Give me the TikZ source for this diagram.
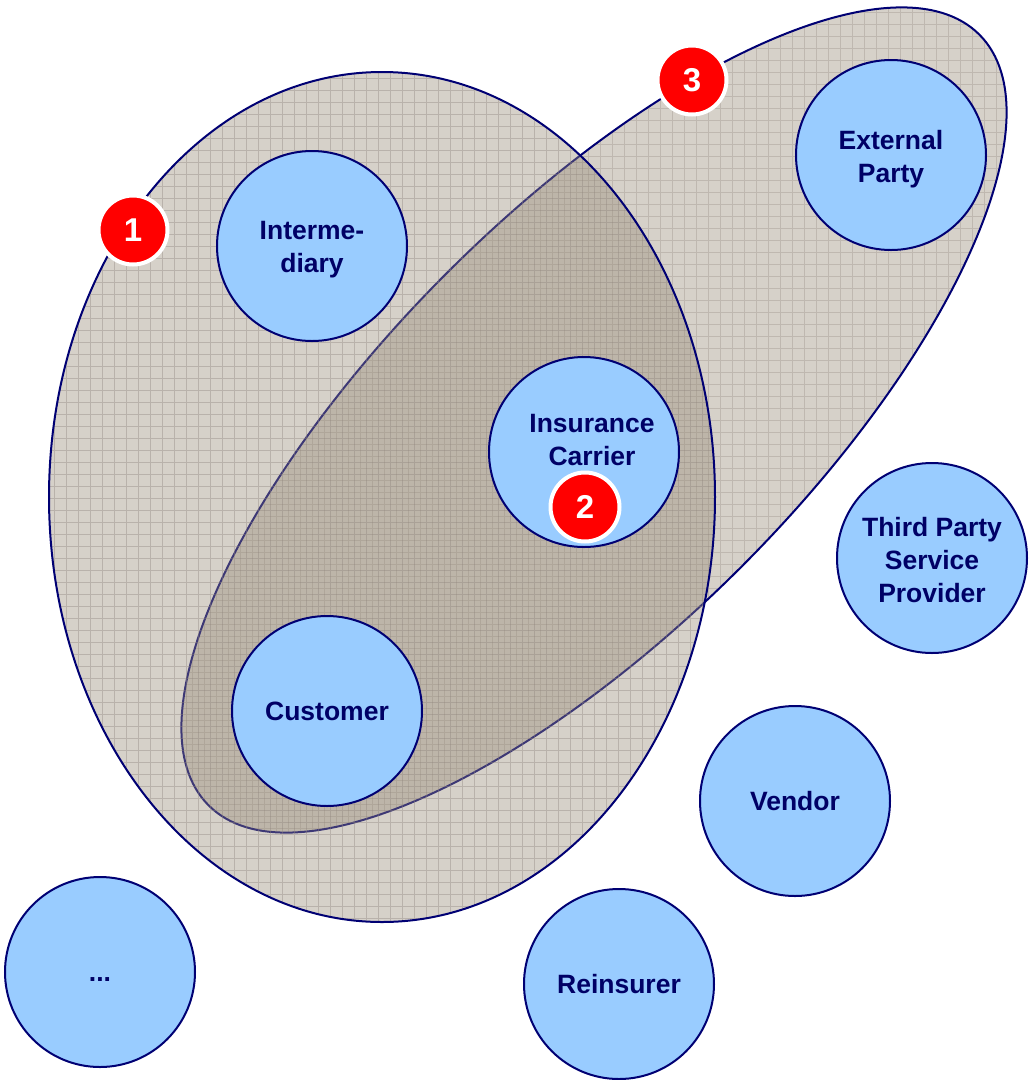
\documentclass[tikz,border=0pt]{standalone}
\usepackage{fontspec}
\setmainfont{Liberation Sans}
\begin{document}
\begin{tikzpicture}[x=1pt,y=1pt,
  entity/.style={circle,draw=navyline,fill=bluefill,line width=2pt,minimum size=190pt,inner sep=0pt,
    text=navytext,font=\fontsize{26.5}{33}\selectfont\bfseries,align=center},
  label text/.style={text=navytext,font=\fontsize{26.5}{33}\selectfont\bfseries,align=center,inner sep=0pt},
  badge/.style={circle,fill=red,draw=white,line width=4pt,minimum size=69pt,inner sep=0pt,
    text=white,font=\fontsize{33}{33}\selectfont\bfseries},
  ringline/.style={draw=navyline,line width=2pt}]
\definecolor{navyline}{rgb}{0,0,0.45}
\definecolor{navytext}{rgb}{0,0,0.4}
\definecolor{bluefill}{rgb}{0.6,0.8,1}
\definecolor{lightfill}{rgb}{0.84,0.82,0.79}
\definecolor{gridA}{rgb}{0.75,0.72,0.69}
\definecolor{topfill}{rgb}{0.60,0.55,0.475}
\definecolor{gridB}{rgb}{0.56,0.52,0.49}
\useasboundingbox (0,0) rectangle (1032,-1080);
% ellipse 2 (rotated)
\fill[lightfill] (594,-420) ellipse [x radius=545, y radius=208, rotate=45];
\begin{scope}
  \clip (594,-420) ellipse [x radius=545, y radius=208, rotate=45];
  \draw[gridA,line width=0.6pt,step=12pt] (0,0) grid (1032,-1080);
\end{scope}
\draw[ringline] (594,-420) ellipse [x radius=545, y radius=208, rotate=45];
% ellipse 1 (semi-transparent on top)
\fill[topfill,opacity=0.4] (382,-497) ellipse [x radius=333, y radius=425];
\begin{scope}
  \clip (382,-497) ellipse [x radius=333, y radius=425];
  \draw[gridB,opacity=0.4,line width=0.6pt,step=12pt,shift={(6pt,-6pt)}] (-12,12) grid (1032,-1080);
\end{scope}
\draw[ringline] (382,-497) ellipse [x radius=333, y radius=425];
% entities
\node[entity] (inter) at (312,-246) {};
\node[label text] (intertext) at (312,-250) {Interme-\\diary};
\node[entity] (ext) at (891,-155) {};
\node[label text] (exttext) at (891,-159) {External\\Party};
\node[entity] (carrier) at (584,-452) {};
\node[label text] (carriertext) at (592,-440) {Insurance\\Carrier};
\node[entity] (tpsp) at (932,-558) {};
\node[label text] (tpsptext) at (932,-560) {Third Party\\Service\\Provider};
\node[entity] (cust) at (327,-711) {Customer};
\node[entity] (vendor) at (795,-801) {Vendor};
\node[entity] (dots) at (100,-972) {};
\node[label text] (dotstext) at (100,-980) {...};
\node[entity] (reins) at (619,-984) {Reinsurer};
% badges
\node[badge] (b1) at (133,-230) {1};
\node[badge] (b2) at (585,-507) {2};
\node[badge] (b3) at (692,-80) {3};
\end{tikzpicture}
\end{document}
